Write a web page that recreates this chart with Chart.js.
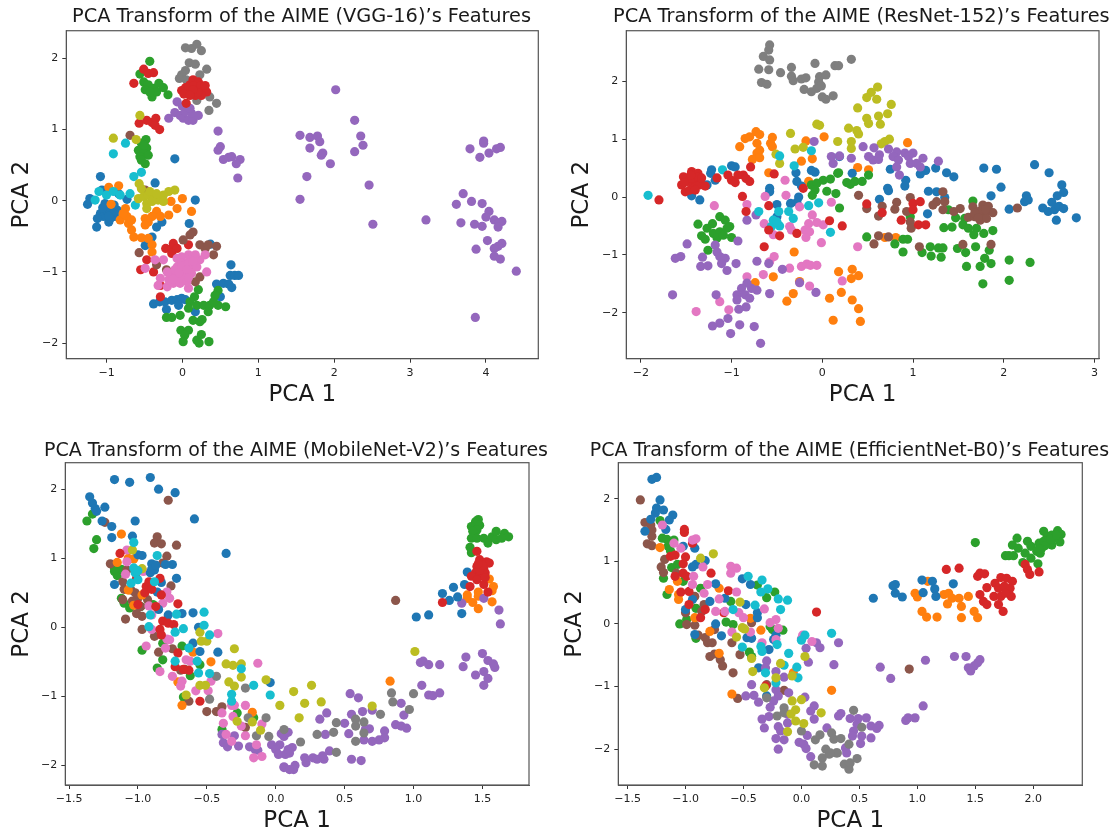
<!DOCTYPE html>
<html>
<head>
<meta charset="utf-8">
<title>PCA Transform of the AIME</title>
<script src="https://cdn.jsdelivr.net/npm/chart.js@4"></script>
<style>
html, body { margin: 0; padding: 0; background: #fff; width: 1116px; height: 833px; overflow: hidden; }
canvas { position: absolute; }
</style>
</head>
<body>
<canvas id="chartVgg"></canvas>
<canvas id="chartResnet"></canvas>
<canvas id="chartMobile"></canvas>
<canvas id="chartEff"></canvas>
<script>
// tab10
var BLUE='#1f77b4', ORANGE='#ff7f0e', GREEN='#2ca02c', RED='#d62728', PURPLE='#9467bd',
    BROWN='#8c564b', PINK='#e377c2', GRAY='#7f7f7f', OLIVE='#bcbd22', CYAN='#17becf';

// tick labels
var vggXTicks=[-1,0,1,2,3,4], vggYTicks=[-2,-1,0,1,2];
var resXTicks=[-2,-1,0,1,2,3], resYTicks=[-2,-1,0,1,2];
var mobXTicks=[-1.5,-1,-0.5,0,0.5,1,1.5], mobYTicks=[-2,-1,0,1,2];
var effXTicks=[-1.5,-1,-0.5,0,0.5,1,1.5,2], effYTicks=[-2,-1,0,1,2];

// VGG-16
var vggGray=[[.04,2.15],[.12,2.14],[.19,2.2],[.25,2.11],[.09,1.94],[.17,1.92],[.04,1.83],[-.01,1.77],[-.04,1.72],[.05,1.7],[.23,1.77],[.32,1.85],[.36,1.46],[.45,1.37],[.35,1.27],[.19,1.41]];
var vggRed=[[-.01,1.55],[.04,1.59],[.1,1.63],[.14,1.7],[.19,1.6],[.23,1.56],[.29,1.58],[.32,1.53],[.12,1.53],[.17,1.48],[.06,1.53],[.25,1.48],[.21,1.67],[.08,1.6],[.15,1.62],[.24,1.62],[.3,1.62],[.2,1.52],[.08,1.5],[.02,1.5],[.14,1.56],[.1,1.48],[.05,1.37],[-.64,1.65],[-.51,1.85],[-.45,1.79],[-.38,1.8],[-.57,1.09],[-.47,1.13],[-.4,1.1],[-.35,1.16],[-.3,1],[-.36,1.06],[-.22,-.67],[-.14,-.67],[-.12,-.6],[-.07,-.67],[.08,-.62],[-.47,-.83],[-.55,-.97],[-.38,-1],[-.29,-1.35],[-.29,-1.19],[-.14,-.74]];
var vggGreen=[[-.43,1.96],[-.56,1.78],[-.51,1.67],[-.45,1.63],[-.49,1.56],[-.4,1.46],[-.38,1.58],[-.31,1.65],[-.25,1.59],[-.19,1.49],[-.34,1.53],[-.43,1.53],[-.48,.86],[-.54,.81],[-.47,.74],[-.58,.71],[-.51,.67],[-.45,.64],[-.56,.62],[-.49,.52],[-.54,.57],[-.5,.78],[.21,-1.25],[.47,-1.26],[.43,-1.33],[.16,-1.35],[.1,-1.42],[.08,-1.51],[.19,-1.47],[.28,-1.47],[.36,-1.47],[.34,-1.56],[.47,-1.47],[.57,-1.49],[.41,-1.42],[.14,-1.68],[.23,-1.7],[.26,-1.67],[-.21,-1.64],[-.14,-1.64],[-.03,-1.61],[-.02,-1.82],[.08,-1.82],[.03,-1.89],[.01,-1.98],[.19,-1.96],[.25,-1.88],[.22,-2],[.35,-1.98]];
var vggPurple=[[-.07,1.39],[-.18,1.16],[-.1,1.24],[-.03,1.2],[.01,1.16],[.08,1.13],[.14,1.13],[.21,1.2],[.12,1.23],[.04,1.25],[0,1.33],[.1,1.3],[.47,.98],[.5,.76],[.47,.71],[.54,.58],[.61,.61],[.65,.62],[.76,.58],[.71,.52],[.73,.32],[1.55,.92],[1.68,.89],[1.78,.91],[1.81,.83],[1.68,.74],[1.85,.67],[1.83,.64],[1.95,.52],[1.64,.34],[1.55,.02],[2.02,1.56],[2.27,1.13],[2.35,.91],[2.38,.78],[2.27,.69],[2.46,.22],[2.51,-.33],[3.21,-.27],[3.97,.84],[3.97,.81],[3.79,.73],[4.04,.67],[3.92,.61],[4.14,.73],[4.19,.75],[3.7,.1],[3.61,-.05],[3.81,-.01],[3.95,-.04],[4.04,-.15],[4,-.23],[4.11,-.27],[4.21,-.29],[4.17,-.31],[4.16,-.37],[3.67,-.31],[3.85,-.33],[3.95,-.36],[4.02,-.56],[4.21,-.6],[4.16,-.64],[4.11,-.67],[3.87,-.68],[4.11,-.78],[4.19,-.82],[4.4,-.99],[3.86,-1.64]];
var vggBlue=[[-1.08,.34],[-1.22,.03],[-1.25,-.05],[-1.06,.15],[-1.13,-.37],[-1.08,-.18],[-1.02,-.04],[-.97,-.3],[-.89,-.22],[-.93,-.11],[-1.04,-.22],[-.99,-.15],[-.86,-.13],[-.84,.1],[-.73,.02],[-.91,-.18],[-.95,-.25],[-1.12,-.25],[-1.05,-.1],[-.97,-.22],[-.9,-.06],[-.36,.25],[-.1,.59],[.17,.01],[-.27,-.3],[-.34,-.37],[.09,-.32],[-.4,-.51],[-.49,-.63],[.37,-.61],[.64,-.9],[.63,-1.05],[.69,-1.05],[.74,-1.05],[.45,-1.17],[.54,-1.16],[.61,-1.17],[.65,-1.22],[.5,-1.35],[-.38,-1.45],[-.3,-1.42],[-.23,-1.42],[-.21,-1.53],[-.14,-1.4],[-.07,-1.39],[-.01,-1.37],[.04,-1.39],[-.05,-1.47],[.17,-1.56]];
var vggCyan=[[-.91,.66],[-.75,.81],[-.54,.4],[-.64,.34],[-1.1,.13],[-1.15,.01],[-1,.08],[-.91,.13],[-.82,.08],[-.69,.1],[-.62,-.06]];
var vggOlive=[[-.91,.88],[-.61,.86],[-.56,1.2],[-.57,.24],[-.54,.17],[-.1,.15],[-.18,.13],[-.25,.08],[-.58,.03],[-.51,.06],[-.45,.08],[-.38,.06],[-.32,.01],[-.47,-.04],[-.4,-.01],[-.47,-.11],[-.43,.13],[-.25,-.01],[-.34,.1]];
var vggOrange=[[-.97,.19],[-.84,.21],[-.94,-.05],[0,.03],[-.07,-.11],[-.15,-.01],[.12,-.15],[-.18,-.2],[-.34,-.15],[-.29,-.22],[-.4,-.22],[-.49,-.25],[-.45,-.3],[-.49,-.34],[-.75,-.11],[-.82,-.27],[-.73,-.22],[-.71,-.32],[-.67,-.41],[-.64,-.51],[-.54,-.52],[-.45,-.53],[-.4,-.62],[-.4,-.72],[-.78,-.18],[-.67,-.27]];
var vggBrown=[[-.69,.92],[-.57,-.73],[.14,-.44],[.1,-.48],[.01,-.55],[.23,-.62],[.3,-.67],[.34,-.62],[.45,-.64],[.41,-.76],[.23,-1.07],[.17,-1.14],[-.21,-.97],[-.34,-.9],[-.49,.15]];
var vggPink=[[-.36,-.83],[-.25,-.83],[-.49,-.95],[-.29,-1.09],[-.32,-1.19],[-.2,-1.21],[-.12,-1.16],[-.03,-1.16],[.08,-1.23],[.32,-1],[.3,-.76],[.23,-.83],[.17,-.76],[.08,-.76],[-.01,-.79],[-.07,-.81],[.04,-.88],[.12,-.93],[.19,-.93],[-.03,-.97],[-.12,-1.04],[-.18,-1.11],[.04,-1.04],[.12,-1.02],[-.03,-1.09],[.06,-1.14],[-.07,-.93],[.1,-.83],[-.01,-.88],[0,-.92],[.08,-.88],[.14,-.85],[.06,-.97],[-.1,-.97],[-.05,-1.02],[.08,-1.08],[-.12,-1.1],[-.2,-1]];

// ResNet-152
var resGray=[[-.58,2.63],[-.59,2.54],[-.65,2.43],[-.58,2.37],[-.7,2.21],[-.59,2.2],[-.67,1.98],[-.61,1.95],[-.46,2.15],[-.34,2.24],[-.34,2.09],[-.32,2.01],[-.23,2.04],[-.18,2.06],[-.2,1.86],[-.12,1.82],[-.08,2.31],[-.03,2.08],[.04,2.11],[-.04,1.99],[-.06,1.88],[-.01,1.92],[0,1.73],[.04,1.69],[.12,1.75],[.14,2.27],[.18,2.27],[.32,2.38]];
var resOlive=[[.61,1.9],[.54,1.81],[.49,1.72],[.6,1.69],[.76,1.6],[.39,1.54],[.72,1.44],[.62,1.4],[.49,1.36],[.51,1.27],[.64,1.26],[.29,1.19],[.38,1.15],[.4,1.09],[.17,.96],[.32,.96],[.32,.84],[.74,1],[.69,.96],[.65,.92],[-.06,1.26],[-.03,1.24],[-.35,1.1],[-.3,.83],[-.21,.86],[-.51,.74],[-.47,.58]];
var resOrange=[[-.73,1.13],[-.69,1.08],[-.8,1.04],[-.85,1.01],[-.91,.87],[-.72,.93],[-.69,.81],[-.72,.76],[-.77,.65],[-.69,.68],[-.55,1.03],[-.57,.93],[-.55,.87],[-.59,.42],[-.18,.97],[.02,1.04],[-.23,.62],[-.11,.66],[-.15,.27],[-.31,-.95],[-.54,-1.38],[-.74,-1.48],[-.32,-1.67],[-.39,-1.8],[-.25,-1.46],[.08,-1.75],[.21,-1.65],[.12,-2.13],[.18,-1.29],[.94,.94],[.39,.51],[.51,.47],[.81,-.7],[.69,-.7],[.33,-1.25],[.32,-1.41],[.4,-1.36],[.33,-1.78],[.4,-1.93],[.42,-2.15]];
var resBlue=[[-1.22,.47],[-1.23,.41],[-1,.54],[-.96,.52],[-1.44,.02],[-1.35,-.05],[-1.33,.24],[-1.27,.21],[-1.18,.29],[-.58,.15],[-.58,.09],[-.29,.42],[-.28,.27],[-.23,.19],[-.26,0],[-.28,-.09],[-.35,-.11],[-.5,-.13],[-.5,-.34],[-.12,.46],[-.08,.43],[.19,.7],[.33,.41],[.75,.48],[1.08,.4],[1.14,.46],[1.25,.5],[1.37,.42],[1.45,.35],[.92,.29],[.91,.19],[.72,.15],[.73,.11],[.63,-.04],[1.17,.1],[1.26,.09],[1.35,-.01],[1.16,-.29],[1.78,.5],[1.92,.48],[2.34,.56],[2.5,.42],[1.97,.17],[1.86,.02],[2.64,.21],[2.66,.08],[2.59,.02],[2.25,.02],[2.23,-.08],[2.27,-.05],[2.06,-.21],[2.53,-.09],[2.43,-.19],[2.49,-.25],[2.56,-.22],[2.61,-.16],[2.66,-.2],[2.58,-.4],[2.8,-.36]];
var resRed=[[-1.53,.35],[-1.44,.44],[-1.37,.41],[-1.55,.21],[-1.51,.09],[-1.46,.12],[-1.42,.21],[-1.48,.27],[-1.37,.27],[-1.35,.21],[-1.29,.19],[-1.44,.32],[-1.37,.35],[-1.45,.38],[-1.52,.25],[-1.4,.12],[-1.33,.33],[-1.16,.33],[-1.04,.38],[-1,.29],[-.96,.25],[-.93,.38],[-.87,.38],[-.84,.32],[-.8,.27],[-.79,.52],[-1.8,-.05],[-.88,.01],[-.84,-.25],[-.53,.4],[-.59,-.15],[-.59,-.57],[-.47,-.67],[-.28,-.63],[.08,-.41],[.22,-.5],[-.64,-.86],[-.21,.15],[.49,-.12],[.66,-.27],[.87,-.4],[1,-.11],[1.08,-.08],[1,-.22],[1.06,-.48],[1.14,-.48]];
var resBrown=[[.4,.03],[.49,-.2],[.66,-.16],[.62,-.33],[.82,-.09],[.8,-.21],[.97,-.01],[.93,-.25],[.97,-.43],[.98,-.54],[1.33,.09],[1.26,-.08],[1.22,-.14],[1.35,-.08],[1.33,-.22],[1.45,-.25],[1.52,-.2],[1.66,-.17],[1.61,-.35],[1.68,-.34],[1.72,-.25],[1.77,-.14],[1.83,-.16],[1.88,-.27],[1.79,-.28],[1.74,-.4],[1.81,-.37],[1.7,-.3],[1.76,-.22],[1.68,-.28],[1.8,-.22],[1.72,-.36],[2.15,-.19],[.62,-.67],[.57,-.81],[.73,-.69],[1.07,-.86],[1.55,-.82],[1.86,-.82]];
var resGreen=[[-1.13,-.34],[-1.07,-.4],[-1.02,-.51],[-1.37,-.47],[-1.27,-.54],[-1.21,-.46],[-1.33,-.67],[-1.29,-.73],[-1.2,-.63],[-1.13,-.6],[-1.16,-.71],[-1.09,-.66],[-1,-.7],[-1.26,-.92],[-1.05,-.54],[-.12,.21],[-.06,.24],[.01,.29],[.09,.31],[.17,.41],[-.08,.12],[-.11,.03],[.05,.1],[.15,.06],[.19,-.19],[.27,.25],[.18,.42],[.31,.22],[.36,.27],[.44,.27],[.51,.38],[1.66,-.07],[.97,-.34],[1.39,-.22],[1.47,-.36],[1.57,-.37],[1.55,-.48],[1.61,-.54],[1.7,-.54],[1.67,-.65],[1.78,-.63],[1.88,-.58],[1.34,-.53],[1.43,-.52],[.49,-.69],[.89,-.73],[.94,-.73],[.8,-.81],[.89,-.95],[1.1,-.96],[1.19,-.86],[1.2,-1.02],[1.28,-.88],[1.33,-.88],[1.31,-1.04],[1.49,-.89],[1.58,-.96],[1.69,-.86],[1.84,-.92],[1.79,-1.06],[1.86,-1.15],[1.59,-1.2],[1.74,-1.2],[2.06,-1.09],[2.29,-1.13],[1.77,-1.5],[2.06,-1.44]];
var resPurple=[[.45,.87],[.57,.85],[.51,.7],[.56,.64],[.63,.73],[.62,.65],[.73,.83],[.82,.78],[.78,.7],[.84,.64],[.91,.76],[.95,.7],[1,.76],[.97,.58],[1.04,.58],[1.11,.67],[1.08,.52],[1.28,.62],[.82,.52],[.85,.38],[.32,.67],[.12,.58],[.1,.7],[.19,.71],[-.09,.96],[-.73,-.31],[-.83,-.4],[-.93,-.76],[-1.18,-.83],[-1.16,-.95],[-1.13,-1.03],[-1.07,-1.06],[-1.11,-1.15],[-1.05,-1.27],[-.95,-1.15],[-1.49,-.81],[-1.56,-1.03],[-1.62,-1.06],[-1.32,-1.04],[-1.34,-1.2],[-1.26,-1.19],[-1.65,-1.69],[-1.17,-1.69],[-.72,-1.11],[-.59,-1.15],[-.44,-1.25],[-.25,-1.48],[-.07,-1.65],[-.58,-1.67],[-.72,-1.61],[-.78,-1.58],[-.83,-1.49],[-.89,-1.58],[-.94,-1.69],[-.94,-1.78],[-.85,-1.69],[-.8,-1.75],[-.84,-1.9],[-.92,-1.94],[-1.04,-2.1],[-1.13,-2.18],[-1.21,-2.23],[-1.01,-2.36],[-.91,-2.21],[-.75,-2.24],[-.68,-2.53]];
var resPink=[[-1.19,-.15],[-.83,-.13],[-.41,.29],[-.4,.03],[-.63,.01],[.1,-.09],[-.25,-.17],[-.11,-.31],[-.15,-.46],[-.06,-.44],[.01,-.48],[-.19,-.57],[-.14,-.6],[-.18,-.7],[-.01,-.79],[-.64,-.46],[-.54,-.65],[-.36,-.51],[-.34,-.57],[-.53,-1.03],[-.58,-1.12],[-.36,-1.23],[-.65,-1.34],[-.23,-1.2],[-.17,-1.16],[-.13,-1.18],[-.06,-1.18],[-.14,-1.54],[.22,-1.45],[-.83,-1.38],[-1.13,-1.81],[-1.39,-1.98],[-1.03,-1.95],[.39,-.86]];
var resCyan=[[-1.92,.03],[-1.1,.47],[-.47,.71],[-.31,.54],[-.12,.8],[-.04,-.1],[-.15,-.15],[-.7,-.25],[-.48,-.25],[-.54,-.4],[-.37,-.25],[-.32,-.37],[-.56,-.51],[-.47,-.5],[-.5,-.43],[.09,-.61]];

// MobileNet-V2
var mobBlue=[[-1.17,2.14],[-1.06,2.1],[-.91,2.17],[-.85,2],[-.73,1.95],[-.59,1.57],[-.36,1.07],[-1.35,1.89],[-1.33,1.8],[-1.31,1.72],[-1.3,1.68],[-1.24,1.74],[-1.26,1.54],[-1.19,1.46],[-1.02,1.54],[-1.19,1.3],[-1.04,1.32],[-1,1.05],[-.97,1.04],[-1.17,.62],[-.9,.92],[-.88,.83],[-.91,.79],[-.9,.84],[-.87,.9],[-.75,.91],[-.8,.91],[-.72,.71],[-.83,.65],[-.86,.51],[-.85,.26],[-.78,.18],[-.68,.2],[-.6,.21],[-.6,-.23],[-.55,-.35],[-.56,0],[-.42,-.36],[-.04,-.8],[1.02,.15],[1.11,.18],[1.21,.49],[1.26,.39],[1.29,.58],[1.32,.44],[1.35,.2],[1.39,.8],[1.37,.62]];
var mobGreen=[[1.47,1.56],[1.45,1.53],[1.42,1.46],[1.48,1.48],[1.46,1.41],[1.43,1.39],[1.42,1.29],[1.46,1.29],[1.51,1.29],[1.54,1.22],[1.57,1.31],[1.6,1.39],[1.6,1.27],[1.66,1.36],[1.69,1.31],[1.64,1.29],[1.41,1.16],[1.42,1.08],[-1.37,1.54],[-1.33,1.64],[-1.3,1.27],[-1.32,1.14],[-1.17,.81],[-1.14,.79],[-1.15,.75],[-1.12,.84],[-1.17,.85],[-1.12,.42],[-1.1,.35],[-1.06,.28],[-.89,.33],[-.97,-.33],[-.82,-.47],[-.86,-.59],[-.82,-.23],[-.68,-.27],[-.55,-.54],[-.62,-.7],[-.67,-1.01],[-.28,-1.24],[-.39,-1.48],[-.16,-1.31],[-.98,.3]];
var mobRed=[[1.21,.36],[1.46,1.1],[1.48,.98],[1.53,.95],[1.55,.93],[1.46,.88],[1.51,.86],[1.45,.79],[1.48,.74],[1.42,.74],[1.41,.59],[1.46,.69],[1.51,.62],[1.54,.51],[1.52,.79],[1.48,.83],[1.5,.9],[1.47,.92],[1.52,.72],[-1.13,1.07],[-1.01,.71],[-.94,.59],[-.92,.66],[-.84,.71],[-.83,.47],[-.71,.34],[-.82,.09],[-.78,.06],[-.74,.04],[-.84,-.03],[-.83,-.11],[-.71,-.37],[-.73,-.57],[-.63,-.62],[-.55,-1.07],[-1,.33],[-.87,.3],[-.67,-.61],[-.95,.5],[-.9,.55]];
var mobOrange=[[1.55,.7],[1.58,.59],[1.57,.53],[1.39,.47],[1.39,.42],[1.47,.51],[1.47,.45],[1.43,.36],[1.57,.37],[1.47,.27],[.83,-.78],[-1.12,1.35],[-1.07,1],[-1.03,.99],[-1.15,.94],[-.97,.47],[-1.03,.32],[-.6,-.36],[-.47,-.5],[-.71,-.79],[-.68,-1.13],[-.17,-1.23],[-1.07,.54]];
var mobPurple=[[1.51,.42],[1.35,.35],[1.62,.25],[1.63,.05],[1.5,-.38],[1.38,-.43],[1.54,-.48],[1.58,-.53],[1.59,-.58],[1.36,-.57],[1.51,-.64],[1.45,-.69],[1.54,-.74],[1.51,-.84],[1.05,-.51],[1.07,-.49],[1.11,-.54],[1.19,-.54],[1.06,-.84],[1.11,-.98],[1.14,-.99],[1.19,-.95],[.54,-.96],[.6,-1.02],[.91,-1.1],[.93,-1.27],[.87,-1.41],[.91,-1.43],[.95,-1.46],[.63,-1.22],[.7,-1.2],[.55,-1.26],[.37,-1.24],[.32,-1.33],[.5,-1.39],[.53,-1.54],[.65,-1.48],[.68,-1.47],[.79,-1.5],[.79,-1.6],[.75,-1.63],[.7,-1.65],[.64,-1.63],[.36,-1.55],[.08,-1.52],[.04,-1.54],[.12,-1.74],[.1,-1.82],[.07,-1.84],[.03,-1.7],[.22,-1.96],[.21,-1.89],[.27,-1.89],[.3,-1.91],[.35,-1.91],[.34,-1.86],[.39,-1.79],[.55,-1.91],[.62,-1.93],[.06,-2.03],[.14,-2],[.13,-2.06],[.06,-1.58],[.09,-1.52],[-.03,-1.7],[0,-1.77],[.02,-1.84],[.06,-2.02],[.09,-1.77],[.1,-2.06],[-.38,-1.67],[-.35,-1.73],[-.3,-1.57],[-.27,-1.72],[-.19,-1.73],[-.15,-1.77],[-.13,-1.78],[-.39,-1.55]];
var mobPink=[[-1.08,1.12],[-1.08,.95],[-1.09,.77],[-.96,.81],[-.79,.51],[-.77,.42],[-.82,.35],[-.92,.31],[-.9,.18],[-.9,-.03],[-.94,-.27],[-.8,-.3],[-.79,-.17],[-.77,-.18],[-.84,-.64],[-.75,-.71],[-.68,-.78],[-.69,-.85],[-.65,-.47],[-.62,-.49],[-.42,-.09],[-.13,-.52],[-.47,-.78],[-.49,-.92],[-.58,-.92],[-.39,-1.24],[-.32,-1.13],[-.3,-1.13],[-.22,-1.13],[-.31,-1.29],[-.25,-1.43],[-.38,-1.39],[-.36,-1.55],[-.32,-1.65],[-.22,-1.57],[-.1,-1.4],[-.14,-1.7],[-.1,-1.87],[-.16,-1.89]];
var mobGray=[[-.43,-.71],[-.22,-.88],[-.48,-1.04],[-.07,-1.31],[-.2,-1.31],[.06,-1.48],[-.14,-1.57],[-.05,-1.58],[.18,-1.66],[.3,-1.55],[.42,-1.52],[.44,-1.38],[.44,-1.81],[.58,-1.65],[.58,-1.43],[.58,-1.33],[.64,-1.37],[.76,-1.26],[.84,-.95],[.85,-1.08],[1,-.96],[.97,-1.19],[.64,-1.53]];
var mobOlive=[[-1.04,1.12],[-.97,.85],[-.55,-.07],[-.54,-.2],[-.5,-.2],[-.3,-.31],[-.36,-.53],[-.31,-.55],[-.25,-.53],[-.25,-.72],[-.34,-.79],[-.3,-.85],[-.07,-.76],[-.55,-.84],[-.51,-.84],[-.65,-.98],[.03,-1.13],[-.28,-1.36],[-.17,-1.37],[-.11,-1.49],[1.01,-.35],[.26,-.84],[.13,-.93],[.21,-1.1],[.33,-1.08],[.17,-1.31],[.7,-1.14]];
var mobCyan=[[-1.03,1.23],[-.86,1.04],[-1.03,.86],[-1.02,.79],[-1.05,.64],[-1,.69],[-1,.82],[-.88,.66],[-.91,.18],[-.92,.01],[-.72,.19],[-.52,.22],[-.52,.03],[-.48,-.11],[-.73,-.07],[-.67,-.02],[-.73,-.49],[-.63,-.3],[-.57,-.49],[-.56,-.66],[-.48,-.67],[-.25,-.6],[-.16,-.84],[-.32,-.97],[-.32,-1.07],[-.04,-.98]];
var mobBrown=[[-.78,1.84],[-1.24,1.52],[-.86,1.31],[-.88,1.22],[-.83,1.21],[-.72,1.19],[-.79,1.03],[-.82,.93],[-1.2,.92],[-1.11,.66],[-1.08,.83],[-.76,.6],[-1.05,.54],[-1.02,.5],[-1.11,.4],[-1,.42],[-.98,.3],[-1.04,.38],[-1.1,.55],[-1.09,.12],[-1.01,.2],[-.97,.16],[-.97,-.03],[-.88,-.13],[-.93,.4],[-.85,-.36],[-.75,-.31],[-.69,-.62],[-.66,-.61],[-.63,-1.07],[-.5,-1.22],[-.43,-1.22],[-.39,-1.15],[-.22,-1.45],[.87,.39]];

// EfficientNet-B0
var effBlue=[[-1.29,2.31],[-1.25,2.34],[-1.22,1.98],[-1.25,1.85],[-1.26,1.77],[-1.19,1.82],[-1.11,1.74],[-1.14,1.66],[-1.3,1.67],[-1.17,1.51],[-1.35,1.48],[-.92,1.21],[-1.02,1.24],[-.83,1.01],[-.91,.95],[-.94,.91],[-.74,.64],[-.51,.72],[-.44,.63],[-.79,.36],[-1,.23],[-.94,.39],[-.74,0],[-.69,-.19],[-.92,-.17],[-.48,.31],[-.38,.18],[-.38,.1],[-.47,-.22],[-.43,-.23],[-.24,-.25],[-.22,-.18],[-.28,-.41],[-.37,-.7],[-.3,-1.15],[-.66,.41],[.62,.41],[.79,.61],[.81,.63],[.81,.49],[.87,.43],[1.04,.7],[1.05,.5],[1.13,.68],[1.15,.56],[1.16,.44],[1.31,.64]];
var effGreen=[[1.5,1.3],[1.86,1.37],[1.82,1.26],[1.87,1.21],[1.95,1.32],[1.98,1.24],[1.76,1.09],[1.79,1.09],[1.83,1.09],[1.93,1.13],[1.98,1.05],[1.91,.98],[2.04,.96],[2.03,1.16],[2.08,1.24],[2.05,1.29],[2.09,1.48],[2.12,1.4],[2.09,1.32],[2.06,1.13],[2.16,1.42],[2.21,1.49],[2.24,1.43],[2.23,1.31],[2.16,1.26],[2.19,1.37],[2.13,1.34],[2.1,1.25],[2.07,1.2],[2.15,1.35],[2.2,1.42],[2.05,1.2],[-1.22,1.65],[-1.2,1.37],[-1.16,1.35],[-1.1,1.34],[-1.15,1.24],[-1.13,1.17],[-1.12,.9],[-1.19,.73],[-1.16,.47],[-1.07,.95],[-1.02,.68],[-1.05,0],[-.99,.07],[-.91,-.23],[-.87,.57],[-.91,.25],[-.61,.36],[-.65,.03],[-.59,-.01],[-.38,.62],[-.3,.42],[-.23,.51],[-.25,-.09],[-.16,-.1],[-.45,-.45],[-.43,-.52],[-.27,-.04]];
var effRed=[[1.25,.87],[1.36,.89],[1.52,.76],[1.54,.81],[1.58,.8],[1.93,.95],[1.95,.87],[1.97,.79],[2.05,.83],[1.6,.58],[1.72,.74],[1.67,.65],[1.77,.73],[1.82,.68],[1.8,.57],[1.7,.57],[1.75,.6],[1.54,.47],[1.57,.36],[1.6,.31],[1.66,.44],[1.72,.44],[1.81,.44],[1.7,.31],[1.74,.2],[1.76,.49],[-1.01,1.51],[-1.01,1.46],[-1.13,1.08],[-1.09,1.1],[-1,1.07],[-1.02,.96],[-1.09,.76],[-1.02,.81],[-.99,.76],[-.94,1.29],[-.78,.81],[-1.04,.51],[-.97,.52],[-.97,.31],[-.87,.1],[-.83,.23],[-.63,.53],[-.67,.18],[.13,.19],[-.31,-.99]];
var effOrange=[[.98,.49],[1,.43],[1.09,.68],[1.23,.47],[1.27,.49],[1.3,.41],[1.26,.32],[1.36,.41],[1.44,.44],[1.38,.28],[1.04,.2],[1.08,.11],[1.17,.11],[1.38,.1],[1.49,.2],[1.52,.1],[-1.22,1.22],[-1.14,.55],[-1.07,.68],[-1.06,.47],[-1.06,.39],[-.71,.57],[-.92,.1],[-.79,-.12],[-.71,-.47],[-.44,.09],[-.35,-.1],[-.6,-1.12],[-.07,-.78],[.26,-1.06]];
var effPurple=[[.32,-.3],[.28,-.65],[.68,-.69],[.77,-.87],[1.07,-.58],[1.32,-.52],[1.42,-.52],[1.54,-.57],[1.52,-.62],[1.49,-.67],[1.44,-.7],[1.46,-.75],[1.05,-1.31],[.98,-1.5],[.92,-1.5],[.9,-1.54],[.34,-1.43],[.32,-1.47],[.42,-1.51],[.49,-1.51],[.56,-1.5],[.6,-1.63],[.67,-1.62],[.65,-1.67],[.48,-1.6],[.45,-1.71],[.44,-1.79],[.52,-1.79],[.51,-1.91],[.6,-1.82],[.38,-1.98],[.39,-2.06],[0,-.24],[.04,-.39],[.06,-.61],[.13,-.3],[.16,-.38],[-.3,-.59],[-.31,-.7],[-.22,-.76],[-.15,-.85],[-.43,-.97],[-.48,-1.15],[-.41,-1.14],[-.37,-1.25],[-.22,-1.05],[-.2,-1.15],[-.24,-1.23],[-.27,-1.33],[-.11,-1.1],[.03,-1.17],[.11,-1.31],[.08,-1.39],[.11,-1.52],[-.34,-1.52],[-.28,-1.48],[-.32,-1.66],[-.2,-1.64],[-.18,-1.71],[-.22,-1.83],[-.15,-1.85],[-.2,-2],[-.12,-1.44],[-.12,-1.58],[.05,-1.78],[-.02,-1.89],[.02,-1.92],[.04,-1.99],[.08,-2.12],[.22,-1.66]];
var effGray=[[-.3,-1.18],[-.15,-1.34],[-.21,-1.47],[-.15,-1.42],[0,-1.71],[.12,-1.85],[.16,-1.77],[.26,-1.74],[.28,-1.84],[.34,-1.83],[.21,-2],[.18,-2.14],[.24,-2.08],[.11,-2.25],[.18,-2.27],[.3,-2.06],[.37,-2.24],[.41,-2.32],[.45,-1.38],[.52,-1.65],[.41,-1.92],[.48,-2.15],[.42,-2.22],[.31,-2.06],[.25,-2.06]];
var effOlive=[[-.87,1.05],[-.76,1.12],[-.53,.35],[-.51,-.06],[-.49,-.08],[-.56,-.21],[-.43,-.55],[-.42,-.76],[.03,-.52],[-.18,-.63],[-.32,-1.02],[-.22,-.86],[-.08,-.83],[-.08,-1.23],[-.09,-1.44],[-.05,-1.37],[-.05,-1.55],[.02,-1.59],[.17,-1.42],[-.12,-1.72],[0,-1.21]];
var effCyan=[[-.46,.76],[-.34,.7],[-.35,.51],[-.29,.56],[-.2,.4],[-.12,.38],[-.18,.23],[-.4,.3],[-.59,.23],[.03,-.18],[0,-.26],[.26,-.15],[-.11,-.47],[-.51,-.37],[-.35,-.36],[-.34,-.44],[-.21,-.33],[-.15,-.66],[-.31,-.78],[-.22,-.94],[-.04,-.69],[-.03,-.86]];
var effPink=[[-1.2,1.58],[-1.1,1.29],[-1.04,1.21],[-.94,1.34],[-.91,1.36],[-.93,.76],[-.94,.63],[-.85,.91],[-.84,.49],[-.61,.92],[-.56,.89],[-.61,.81],[-.56,.51],[-.81,.63],[-.71,.4],[-.74,.2],[-.66,.2],[-.54,.18],[-.5,.1],[-.32,.24],[-.27,.02],[-.22,.07],[-.2,-.07],[-.6,-.13],[-.44,-.13],[-.34,-.3],[-.22,-.25],[.01,-.18],[.09,-.28]];
var effBrown=[[-1.39,1.98],[-1.35,1.62],[-1.3,1.58],[-1.29,1.5],[-1.29,1.4],[-1.33,1.28],[-1.29,1.25],[-1.18,1.03],[-1.21,.91],[-1.19,.82],[-1.08,.81],[-.92,.44],[-1,.18],[-.84,.31],[-.86,.2],[-.99,-.01],[-.92,-.02],[-.89,-.18],[-.83,-.22],[-.81,-.3],[-.77,-.3],[-.75,-.09],[-.79,-.52],[-.75,-.48],[-.7,-.57],[-.68,-.67],[-.59,-.78],[-.6,-.3],[-.53,-.49],[-.55,-1.19],[-.43,.02],[-.15,-1.06],[-.3,-.97],[.93,-.72]];

// top and right spines, and the title box: it is wider than the plot and not centred on it
var frame = {
    id: 'frame',
    afterLayout: function(chart, args, opts) {
        var t = chart.titleBlock;
        t.left = opts.titleCentre - 280;
        t.right = opts.titleCentre + 280;
        t.width = 560;
    },
    afterDraw: function(chart) {
        var a = chart.chartArea, c = chart.ctx;
        c.save();
        c.strokeStyle = '#555';
        c.lineWidth = 1.2;
        c.strokeRect(a.left, a.top, a.right - a.left, a.bottom - a.top);
        c.restore();
    }
};

function tickLabel(v, decimals) {
    return v.toFixed(decimals).replace('-', '\u2212');
}

function axis(min, max, ticks, label, decimals, size) {
    return {
        type: 'linear',
        min: min,
        max: max,
        afterBuildTicks: function(s) {
            s.ticks = ticks.map(function(v) { return {value: v}; });
        },
        afterFit: function(s) {
            if (s.isHorizontal()) s.height = size; else s.width = size;
        },
        title: {
            display: true,
            text: label,
            color: '#1a1a1a',
            padding: 0,
            font: {family: 'DejaVu Sans', size: 23, lineHeight: 1.2}
        },
        grid: {drawOnChartArea: false, drawTicks: true, tickLength: 4, tickColor: '#333', tickWidth: 1},
        border: {display: true, color: '#555', width: 1},
        ticks: {
            autoSkip: false,
            maxRotation: 0,
            padding: 4,
            color: '#222',
            font: {family: 'DejaVu Sans', size: 11},
            callback: function(v) { return tickLabel(v, decimals); }
        }
    };
}

function panel(id, o) {
    var canvas = document.getElementById(id);
    canvas.width = o.width;
    canvas.height = o.height;
    canvas.style.left = o.left + 'px';
    canvas.style.top = o.top + 'px';
    return new Chart(canvas, {
        type: 'scatter',
        data: {
            // last in the list is painted on top
            datasets: o.series.map(function(s, i) {
                return {
                    data: s[0],
                    backgroundColor: s[1],
                    borderWidth: 0,
                    pointRadius: 4.6,
                    pointHoverRadius: 4.6,
                    order: o.series.length - i
                };
            })
        },
        options: {
            responsive: false,
            animation: false,
            layout: {padding: {left: 0, top: 0, bottom: 0, right: o.rightPad}},
            plugins: {
                frame: {titleCentre: o.titleCentre - o.left},
                legend: {display: false},
                tooltip: {enabled: false},
                title: {
                    display: true,
                    text: o.title,
                    color: '#1a1a1a',
                    padding: {top: o.titleTop, bottom: o.titleBottom},
                    font: {family: 'DejaVu Sans', size: o.titleSize, weight: 'normal', lineHeight: 1.2}
                }
            },
            scales: {
                x: axis(o.xMin, o.xMax, o.xTicks, 'PCA 1', o.decimals, o.xHeight),
                y: axis(o.yMin, o.yMax, o.yTicks, 'PCA 2', 0, o.yWidth)
            }
        },
        plugins: [frame]
    });
}

panel('chartVgg', {
    left: 8, top: 0, width: 587, height: 409, rightPad: 56.7, yWidth: 58.3, xHeight: 50.3,
    titleSize: 19.35, titleTop: 5.8, titleBottom: 1.7, titleCentre: 301.5,
    title: 'PCA Transform of the AIME (VGG-16)\u2019s Features',
    xMin: -1.53, xMax: 4.69, yMin: -2.22, yMax: 2.39, xTicks: vggXTicks, yTicks: vggYTicks, decimals: 0,
    series: [[vggBlue,BLUE],[vggOrange,ORANGE],[vggGreen,GREEN],[vggPurple,PURPLE],[vggGray,GRAY],[vggRed,RED],[vggBrown,BROWN],[vggPink,PINK],[vggCyan,CYAN],[vggOlive,OLIVE]]
});

panel('chartResnet', {
    left: 568, top: 0, width: 587, height: 409, rightPad: 56, yWidth: 58.3, xHeight: 50.3,
    titleSize: 19.35, titleTop: 5.8, titleBottom: 1.7, titleCentre: 861.3,
    title: 'PCA Transform of the AIME (ResNet-152)\u2019s Features',
    xMin: -2.16, xMax: 3.05, yMin: -2.795, yMax: 2.875, xTicks: resXTicks, yTicks: resYTicks, decimals: 0,
    series: [[resOrange,ORANGE],[resBlue,BLUE],[resGreen,GREEN],[resOlive,OLIVE],[resGray,GRAY],[resPink,PINK],[resPurple,PURPLE],[resCyan,CYAN],[resBrown,BROWN],[resRed,RED]]
});

panel('chartMobile', {
    left: 8, top: 420, width: 577, height: 415.8, rightPad: 56, yWidth: 57.3, xHeight: 50,
    titleSize: 19, titleTop: 19.2, titleBottom: .7, titleCentre: 296,
    title: 'PCA Transform of the AIME (MobileNet-V2)\u2019s Features',
    xMin: -1.527, xMax: 1.838, yMin: -2.283, yMax: 2.384, xTicks: mobXTicks, yTicks: mobYTicks, decimals: 1,
    series: [[mobGreen,GREEN],[mobBrown,BROWN],[mobOrange,ORANGE],[mobPurple,PURPLE],[mobPink,PINK],[mobBlue,BLUE],[mobRed,RED],[mobGray,GRAY],[mobOlive,OLIVE],[mobCyan,CYAN]]
});

panel('chartEff', {
    left: 561, top: 420, width: 578, height: 415.8, rightPad: 56.7, yWidth: 57.3, xHeight: 50,
    titleSize: 19, titleTop: 19.2, titleBottom: .7, titleCentre: 849.5,
    title: 'PCA Transform of the AIME (EfficientNet-B0)\u2019s Features',
    xMin: -1.58, xMax: 2.423, yMin: -2.572, yMax: 2.575, xTicks: effXTicks, yTicks: effYTicks, decimals: 1,
    series: [[effGreen,GREEN],[effBrown,BROWN],[effOrange,ORANGE],[effBlue,BLUE],[effRed,RED],[effPurple,PURPLE],[effPink,PINK],[effGray,GRAY],[effCyan,CYAN],[effOlive,OLIVE]]
});
</script>
</body>
</html>
